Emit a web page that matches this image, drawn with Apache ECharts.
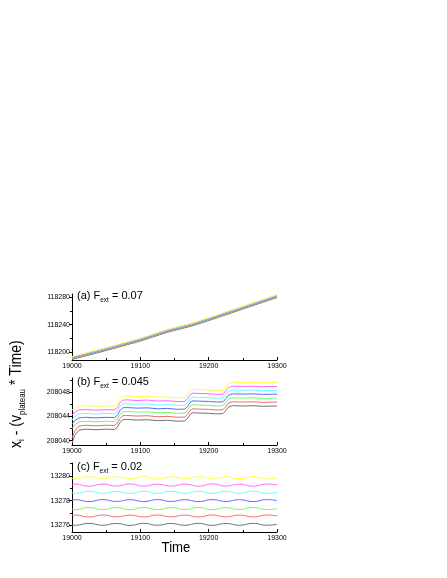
<!DOCTYPE html>
<html><head><meta charset="utf-8">
<script src="https://cdn.jsdelivr.net/npm/echarts@6/dist/echarts.min.js"></script>
<style>html,body{margin:0;padding:0;background:#fff}#c{width:447px;height:578px}</style>
</head><body><div id="c"></div>
<script>
// ---------- DATA ----------
const seriesNames = ['yellow','magenta','cyan','blue','green','red','gray'];
const seriesColors = ['#ffff44','#ff66ff','#66ffff','#6666ff','#66ff66','#ff6666','#707070'];

// Panel (a) F_ext = 0.07
const timeA = [19000,19050,19100,19140,19175,19200,19250,19300];
const aYellow  = [118193.1,118206.1,118220.1,118233.1,118242.1,118250.1,118267.1,118284.1];
const aMagenta = [118192.4,118205.4,118219.4,118232.4,118241.4,118249.4,118266.4,118283.4];
const aCyan    = [118191.7,118204.7,118218.7,118231.7,118240.7,118248.7,118265.7,118282.7];
const aBlue    = [118191.0,118204.0,118218.0,118231.0,118240.0,118248.0,118265.0,118282.0];
const aGreen   = [118190.3,118203.3,118217.3,118230.3,118239.3,118247.3,118264.3,118281.3];
const aRed     = [118189.6,118202.6,118216.6,118229.6,118238.6,118246.6,118263.6,118280.6];
const aGray    = [118188.9,118201.9,118215.9,118228.9,118237.9,118245.9,118262.9,118279.9];

// Panel (b) F_ext = 0.045
const timeB = [19000,19004,19010,19020,19035,19050,19062,19066,19070,19074,19080,19095,19110,19125,19140,19155,19165,19169,19173,19177,19185,19200,19212,19221,19225,19229,19235,19250,19265,19280,19300];
const bYellow  = [208045.0,208045.5,208045.7,208045.75,208045.65,208045.75,208045.7,208046.0,208046.8,208047.3,208047.35,208047.25,208047.3,208047.15,208047.2,208047.05,208047.1,208047.5,208048.2,208048.45,208048.4,208048.35,208048.25,208048.3,208048.8,208049.4,208049.6,208049.55,208049.6,208049.5,208049.55];
const bMagenta = [208044.2,208044.7,208045.05,208045.12,208045.02,208045.1,208045.07,208045.4,208046.2,208046.65,208046.72,208046.6,208046.68,208046.52,208046.56,208046.42,208046.47,208046.9,208047.55,208047.82,208047.76,208047.72,208047.6,208047.65,208048.2,208048.75,208048.97,208048.92,208048.95,208048.88,208048.92];
const bCyan    = [208043.4,208044.0,208044.4,208044.48,208044.4,208044.47,208044.43,208044.8,208045.55,208046.03,208046.08,208045.98,208046.04,208045.88,208045.94,208045.79,208045.83,208046.25,208046.92,208047.18,208047.13,208047.08,208046.98,208047.03,208047.55,208048.12,208048.33,208048.28,208048.33,208048.23,208048.28];
const bBlue    = [208042.7,208043.3,208043.75,208043.85,208043.75,208043.85,208043.8,208044.15,208044.9,208045.4,208045.45,208045.35,208045.4,208045.25,208045.3,208045.15,208045.2,208045.6,208046.3,208046.55,208046.5,208046.45,208046.35,208046.4,208046.9,208047.5,208047.7,208047.65,208047.7,208047.6,208047.65];
const bGreen   = [208042.0,208042.6,208043.1,208043.2,208043.1,208043.2,208043.15,208043.5,208044.25,208044.75,208044.8,208044.7,208044.75,208044.6,208044.65,208044.5,208044.55,208044.95,208045.65,208045.9,208045.85,208045.8,208045.7,208045.75,208046.25,208046.85,208047.05,208047.0,208047.05,208046.95,208047.0];
const bRed     = [208040.4,208041.6,208042.4,208042.55,208042.45,208042.55,208042.5,208042.85,208043.6,208044.1,208044.15,208044.05,208044.1,208043.95,208044.0,208043.85,208043.9,208044.3,208045.0,208045.25,208045.2,208045.15,208045.05,208045.1,208045.6,208046.2,208046.4,208046.35,208046.4,208046.3,208046.35];
const bGray    = [208039.6,208040.9,208041.7,208041.9,208041.8,208041.9,208041.85,208042.2,208042.95,208043.45,208043.5,208043.4,208043.45,208043.3,208043.35,208043.2,208043.25,208043.65,208044.35,208044.6,208044.55,208044.5,208044.4,208044.45,208044.95,208045.55,208045.75,208045.7,208045.75,208045.65,208045.7];

// Panel (c) F_ext = 0.02
const timeC = [19000,19005,19025,19045,19065,19085,19105,19125,19145,19165,19185,19205,19225,19245,19265,19285,19300];
const cYellow  = [13279.8,13279.76,13279.94,13279.76,13279.93,13279.77,13279.94,13279.75,13279.93,13279.77,13279.94,13279.76,13279.93,13279.77,13279.94,13279.76,13279.84];
const cMagenta = [13279.3,13279.33,13279.17,13279.34,13279.18,13279.35,13279.17,13279.33,13279.18,13279.34,13279.17,13279.35,13279.18,13279.33,13279.17,13279.34,13279.26];
const cCyan    = [13278.62,13278.59,13278.76,13278.59,13278.75,13278.58,13278.76,13278.59,13278.75,13278.59,13278.76,13278.58,13278.75,13278.59,13278.76,13278.59,13278.66];
const cBlue    = [13278.04,13278.07,13277.92,13278.08,13277.93,13278.07,13277.92,13278.08,13277.93,13278.07,13277.92,13278.08,13277.93,13278.07,13277.92,13278.08,13278.0];
const cGreen   = [13277.3,13277.27,13277.44,13277.27,13277.43,13277.26,13277.44,13277.27,13277.43,13277.27,13277.44,13277.26,13277.43,13277.27,13277.44,13277.27,13277.34];
const cRed     = [13276.79,13276.82,13276.67,13276.83,13276.68,13276.82,13276.67,13276.83,13276.68,13276.82,13276.67,13276.83,13276.68,13276.82,13276.67,13276.83,13276.75];
const cGray    = [13276.03,13276.0,13276.15,13276.0,13276.14,13275.99,13276.15,13276.0,13276.14,13276.0,13276.15,13275.99,13276.14,13276.0,13276.15,13276.0,13276.07];

// tick labels
const xTicks = [19000,19100,19200,19300];
const yMajorA = [118200,118240,118280];
const yMinorA = [118220,118260];
const yMajorB = [208040,208044,208048];
const yMinorB = [208042,208046,208050];
const yMajorC = [13276,13278,13280];
const yMinorC = [13277,13279,13281];
const panelTitles = [['(a) F','ext',' = 0.07'],['(b) F','ext',' = 0.045'],['(c) F','ext',' = 0.02']];

// ---------- CHART ----------
const FF = 'Liberation Sans';
const ctx = document.createElement('canvas').getContext('2d');
function tw(s,size){ctx.font = size+'px "'+FF+'"';return ctx.measureText(s).width;}

const panels = [
  {t:timeA, vals:[aYellow,aMagenta,aCyan,aBlue,aGreen,aRed,aGray], top:294, h:66, min:118188, max:118285, maj:yMajorA, mnr:yMinorA, smooth:false},
  {t:timeB, vals:[bYellow,bMagenta,bCyan,bBlue,bGreen,bRed,bGray], top:378, h:67, min:208039.3, max:208050.3, maj:yMajorB, mnr:yMinorB, smooth:false},
  {t:timeC, vals:[cYellow,cMagenta,cCyan,cBlue,cGreen,cRed,cGray], top:463, h:69, min:13275.45, max:13281.05, maj:yMajorC, mnr:yMinorC, smooth:0.5}
];
const L = 72, W = 205;
const grid=[], xAxis=[], yAxis=[], series=[];
panels.forEach((p,i)=>{
  grid.push({left:L, top:p.top, width:W, height:p.h});
  xAxis.push({type:'value', gridIndex:i, position:'bottom', min:xTicks[0], max:xTicks[xTicks.length-1], interval:100,
    axisLine:{lineStyle:{color:'#000',width:1}},
    axisTick:{inside:true,length:3,lineStyle:{color:'#000'}},
    minorTick:{show:true,splitNumber:2,length:2,lineStyle:{color:'#000'}},
    splitLine:{show:false},
    axisLabel:{fontSize:7,fontFamily:FF,color:'#000',margin:3,formatter:v=>String(v)}});
  yAxis.push({type:'value', gridIndex:i, position:'left', min:p.min, max:p.max,
    axisLine:{show:true,lineStyle:{color:'#000',width:1}},
    axisTick:{show:true,length:3,customValues:p.maj,lineStyle:{color:'#000'}},
    splitLine:{show:false},
    axisLabel:{fontSize:7,fontFamily:FF,color:'#000',margin:2,customValues:p.maj,formatter:v=>String(v)}});
  yAxis.push({type:'value', gridIndex:i, position:'left', offset:0, min:p.min, max:p.max,
    axisLine:{show:false},
    axisTick:{show:true,length:2,customValues:p.mnr,lineStyle:{color:'#000'}},
    splitLine:{show:false}, axisLabel:{show:false}});
  p.vals.slice().reverse().forEach((vals,kRev)=>{
    const k = p.vals.length-1-kRev;
    series.push({type:'line', name:seriesNames[k], xAxisIndex:i, yAxisIndex:i*2,
      data:p.t.map((x,j)=>[x,vals[j]]), showSymbol:false, smooth:p.smooth, silent:true,
      lineStyle:{color:seriesColors[k],width:1}, itemStyle:{color:seriesColors[k]}});
  });
});

function runGroup(parts, pos, opts){
  let x=0; const children=[];
  parts.forEach(pt=>{
    children.push({type:'text', x:x, y:pt.dy||0, style:{text:pt.t, fontSize:pt.size, fontFamily:FF, fill:'#000', align:'left', verticalAlign:'middle'}});
    x += tw(pt.t, pt.size);
  });
  return Object.assign({type:'group', x:pos[0], y:pos[1], children, silent:true}, opts||{});
}

const graphic = [];
const titleY = [296, 382, 467];
panelTitles.forEach((pt,i)=>{
  graphic.push(runGroup([{t:pt[0],size:11},{t:pt[1],size:6.5,dy:4},{t:pt[2],size:11}],[77,titleY[i]]));
});
// y-axis title (rotated)
graphic.push(runGroup([
  {t:'x',size:16},{t:'i',size:9,dy:5},{t:' - (v',size:16},{t:'plateau',size:9,dy:6},{t:' * Time)',size:16}
],[17,448],{rotation:Math.PI/2, scaleX:0.88}));
// x-axis title
graphic.push({type:'text', x:176, y:547.5, scaleX:0.85, silent:true,
  style:{text:'Time', fontSize:15.5, fontFamily:FF, fill:'#000', align:'center', verticalAlign:'middle'}});

const chart = echarts.init(document.getElementById('c'), null, {renderer:'canvas'});
chart.setOption({animation:false, backgroundColor:'#fff', grid, xAxis, yAxis, series, graphic});
</script>
</body></html>
